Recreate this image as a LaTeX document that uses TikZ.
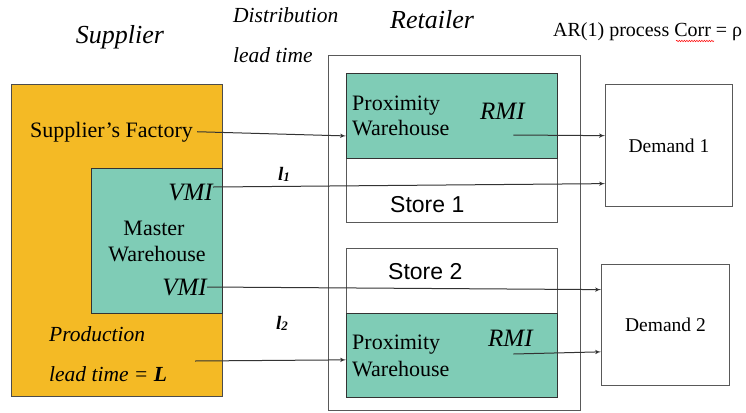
\documentclass[tikz,border=0pt]{standalone}
\usepackage{fontspec}
\setmainfont{Liberation Serif}
\newfontfamily\storefont{Liberation Sans}
\usetikzlibrary{shapes,arrows,positioning,calc,decorations.pathmorphing}

\definecolor{supyellow}{RGB}{244,186,37}
\definecolor{whteal}{RGB}{127,204,182}

\begin{document}
\begin{tikzpicture}[x=1pt,y=-1pt]
\tikzstyle{supbox} = [rectangle, draw=black!70, line width=1pt, fill=supyellow, anchor=north west, inner sep=0]
\tikzstyle{tealbox} = [rectangle, draw=black!80, line width=1.2pt, fill=whteal, anchor=north west, inner sep=0]
\tikzstyle{outbox} = [rectangle, draw=black!65, line width=1pt, fill=white, anchor=north west, inner sep=0]
\tikzstyle{head} = [font=\fontsize{26}{26}\selectfont\itshape, inner sep=0]
\tikzstyle{note} = [font=\fontsize{21.5}{21.5}\selectfont\itshape, inner sep=0]
\tikzstyle{plain} = [font=\fontsize{22}{22}\selectfont, inner sep=0]
\tikzstyle{tag} = [font=\fontsize{25}{25}\selectfont\itshape, inner sep=0]
\tikzstyle{storelabel} = [font=\storefont\fontsize{23}{23}\selectfont, inner sep=0]
\tikzstyle{leadlabel} = [font=\fontsize{19}{19}\selectfont\bfseries\itshape, inner sep=0]
\tikzstyle{flow} = [draw=black!80, line width=1pt, -latex']

\useasboundingbox (0,0) rectangle (746,412);

% Supplier with its master warehouse
\node [supbox, minimum width=211pt, minimum height=312pt] (supplier) at (11,84) {};
\node [tealbox, line width=1pt, minimum width=131pt, minimum height=145pt] (master) at (91,168) {};

% Retailer with two stores
\node [outbox, minimum width=252pt, minimum height=355pt] (retailer) at (328,55) {};
\node [outbox, minimum width=211pt, minimum height=149pt] (store1) at (346,73) {};
\node [tealbox, minimum width=211pt, minimum height=85pt] (prox1) at (346,73) {};
\node [outbox, minimum width=211pt, minimum height=149pt] (store2) at (346,248) {};
\node [tealbox, minimum width=211pt, minimum height=84pt] (prox2) at (346,313) {};

% Demands
\node [outbox, font=\fontsize{19.5}{19.5}\selectfont, minimum width=127pt, minimum height=122pt] (demand1) at (605,84) {Demand 1};
\node [outbox, font=\fontsize{19.5}{19.5}\selectfont, minimum width=128pt, minimum height=121pt] (demand2) at (601,264) {Demand 2};

% Titles
\node [head, anchor=base] (suptitle) at (120,44) {Supplier};
\node [note, anchor=base west] (dist) at (233,23) {Distribution};
\node [note, anchor=base west] (distlt) at ($(dist.base west)+(0,40)$) {lead time};
\node [head, anchor=base west] (rettitle) at (390,29) {Retailer};
\node [font=\fontsize{20}{20}\selectfont, inner sep=0, anchor=base west] (ar) at (553,37) {AR(1) process Corr = ρ};
\draw [red, line width=0.5pt, decorate, decoration={snake, amplitude=0.7pt, segment length=2.5pt}] (676,41) -- (714,41);

% Supplier labels
\node [plain, anchor=base west] (factory) at (30,137) {Supplier’s Factory};
\node [tag, anchor=base east] (vmiA) at (213,200) {VMI};
\node [plain, anchor=base] (mastera) at (154,235) {Master};
\node [plain, anchor=base] (masterb) at ($(mastera.base)+(3,26)$) {Warehouse};
\node [tag, anchor=base east] (vmiB) at (207,295) {VMI};
\node [note, anchor=base west] (prod) at (49,341) {Production};
\node [note, anchor=base west] (prodlt) at ($(prod.base west)+(0,40)$) {lead time = \textbf{L}};

% Lead times
\node [leadlabel, anchor=base west] (lA) at (278,180) {l\raisebox{-0.2ex}{\fontsize{13}{13}\selectfont 1}};
\node [leadlabel, anchor=base west] (lB) at (276,329) {l\raisebox{-0.2ex}{\fontsize{13}{13}\selectfont 2}};

% Retailer labels
\node [plain, anchor=base west] (proxAa) at (352,110) {Proximity};
\node [plain, anchor=base west] (proxAb) at ($(proxAa.base west)+(0,25)$) {Warehouse};
\node [tag, anchor=base west] (rmiA) at (480,119) {RMI};
\node [storelabel, anchor=base west] (storeA) at (390,212) {Store 1};
\node [storelabel, anchor=base west] (storeB) at (388,279) {Store 2};
\node [plain, anchor=base west] (proxBa) at (352,349) {Proximity};
\node [plain, anchor=base west] (proxBb) at ($(proxBa.base west)+(0,27)$) {Warehouse};
\node [tag, anchor=base west] (rmiB) at (488,346) {RMI};

% Flows
\draw [flow] ([xshift=4pt]factory.east) -- ($(prox1.north west)!0.73!(prox1.south west)$);
\draw [flow] ([yshift=5pt]vmiA.east) -- ($(demand1.north west)!0.81!(demand1.south west)$);
\draw [flow] (vmiB.east) -- ($(demand2.north west)!0.21!(demand2.south west)$);
\draw [flow] ($(prodlt.base east)+(28,-20)$) -- ($(prox2.north west)!0.55!(prox2.south west)$);
\draw [flow] ($(rmiA.base)+(11,16)$) -- ($(demand1.north west)!0.42!(demand1.south west)$);
\draw [flow] ($(rmiB.base)+(3,8)$) -- ($(demand2.north west)!0.72!(demand2.south west)$);

\end{tikzpicture}
\end{document}
